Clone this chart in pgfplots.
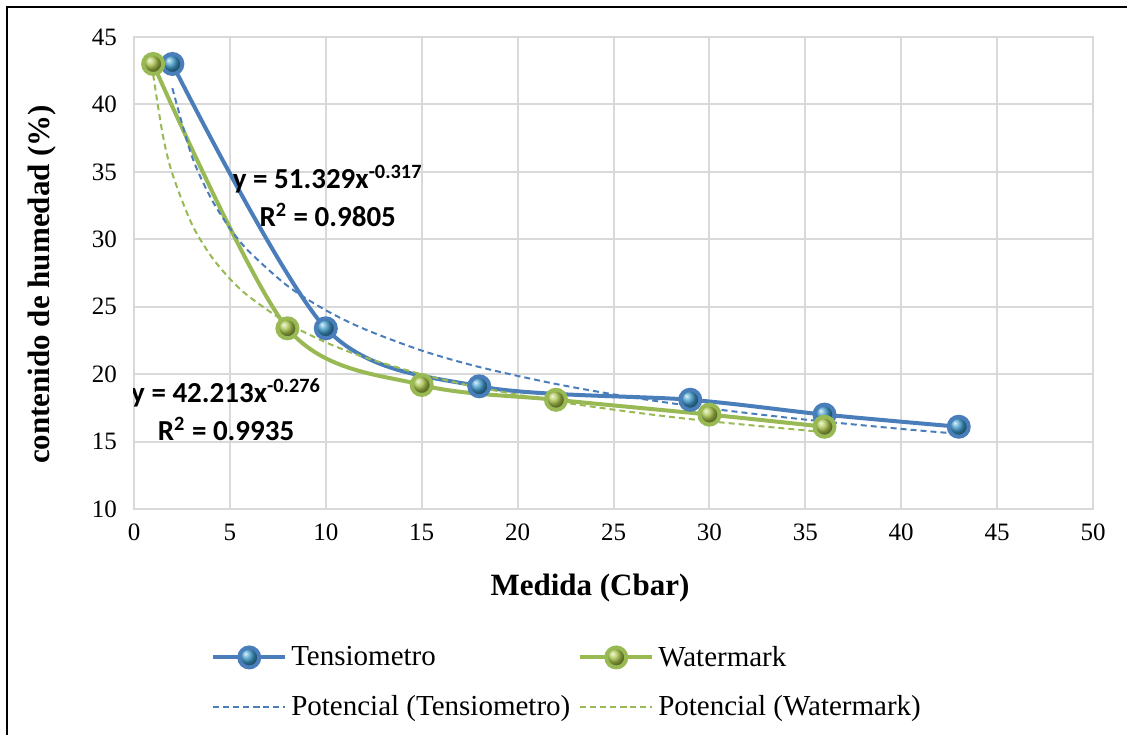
\documentclass[border=0pt]{standalone}
\usepackage{fontspec}
\setmainfont{Liberation Serif}
\newfontfamily\eqfont{Carlito}
\usepackage{pgfplots}
\pgfplotsset{compat=1.18}
\usetikzlibrary{shadings}

\definecolor{tblue}{HTML}{4A7EBB}
\definecolor{tgreen}{HTML}{98B954}
\definecolor{gridc}{HTML}{D9D9D9}

\pgfplotstableread{
x y
2 43.0
10 23.4
18 19.1
29 18.1
36 17.0
43 16.1
}\tensio

\pgfplotstableread{
x y
1 43.0
8 23.4
15 19.2
22 18.1
30 17.0
36 16.1
}\water

% trend lines (power fits)
\pgfplotstableread{
x y
2 41.21
3 36.23
4 33.08
5 30.82
6 29.09
8 26.55
10 24.74
12 23.35
15 21.75
18 20.53
22 19.27
26 18.27
30 17.46
35 16.63
40 15.94
43 15.58
}\tensiofit

\pgfplotstableread{
x y
1 42.21
1.5 37.74
2 34.86
3 31.17
4 28.79
5 27.07
6 25.75
8 23.78
10 22.36
12 21.26
15 19.99
18 19.01
22 17.99
26 17.18
30 16.51
36 15.70
}\waterfit

\begin{document}
\begin{tikzpicture}
% page frame (pixel coords: X=(px-134)/2 pt, Y=(509-py)/2 pt)
\path[use as bounding box] (-67pt,-113pt) rectangle (496.5pt,254.5pt);
\draw[black, line width=1pt] (-63.5pt,-113pt) -- (-63.5pt,251pt) -- (496.5pt,251pt);
\begin{axis}[
    scale only axis,
    width=479.5pt, height=236pt,
    at={(0pt,0pt)}, anchor=south west,
    xmin=0, xmax=50, ymin=10, ymax=45,
    xtick={0,5,...,50}, ytick={10,15,...,45},
    grid=major,
    major grid style={gridc, line width=1pt},
    axis line style={gridc, line width=1pt},
    major tick length=0pt,
    /pgf/number format/assume math mode=true,
    tick label style={font=\fontsize{12.5}{14}\selectfont},
    xticklabel style={yshift=-4pt},
    yticklabel style={xshift=-5pt},
    xlabel={\textbf{Medida (Cbar)}},
    ylabel={\textbf{contenido de humedad (\%)}},
    label style={font=\fontsize{15.5}{17}\selectfont},
    xlabel style={at={(axis description cs:0.4755,-0.1674)}, anchor=center},
    ylabel style={at={(axis description cs:-0.096,0.476)}, anchor=center},
    legend columns=2,
    legend cell align=left,
    legend style={draw=none, fill=none, font=\fontsize{14.5}{17}\selectfont,
        at={(rel axis cs:0.4526,-0.3665)}, anchor=center,
        /tikz/every even column/.append style={column sep=2pt},
        row sep=9pt},
    legend image code/.code={
        \draw[#1, mark repeat=2, mark phase=2] plot coordinates {(0pt,0pt) (18pt,0pt) (36pt,0pt)};
    },
]
\addplot[tblue, line width=2pt, smooth, mark=ball, mark size=5pt,
    mark options={ball color=tblue!80!cyan, draw=none}] table {\tensio};
\addlegendentry{Tensiometro}
\addplot[tgreen, line width=2pt, smooth, mark=ball, mark size=5pt,
    mark options={ball color=tgreen!85!yellow, draw=none}] table {\water};
\addlegendentry{Watermark}
\addplot[tblue, line width=1pt, dash pattern=on 3pt off 2pt, smooth] table {\tensiofit};
\addlegendentry{Potencial (Tensiometro)}
\addplot[tgreen, line width=1pt, dash pattern=on 3pt off 2pt, smooth] table {\waterfit};
\addlegendentry{Potencial (Watermark)}

\node[font=\eqfont\bfseries\fontsize{14.5}{19}\selectfont, align=center]
    at (axis cs:10.1,33.2) {y = 51.329x\textsuperscript{-0.317}\\R\textsuperscript{2} = 0.9805};
\node[font=\eqfont\bfseries\fontsize{14.5}{19}\selectfont, align=center]
    at (axis cs:4.8,17.35) {y = 42.213x\textsuperscript{-0.276}\\R\textsuperscript{2} = 0.9935};
\end{axis}
\end{tikzpicture}
\end{document}
